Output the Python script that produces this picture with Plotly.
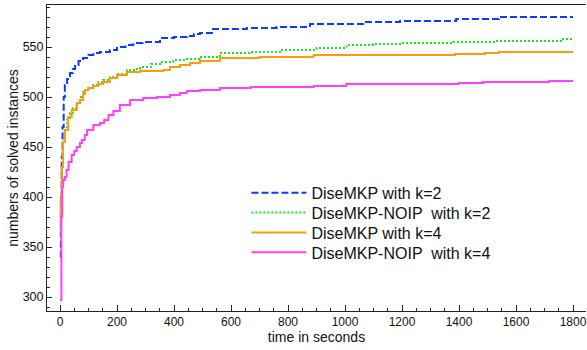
import plotly.graph_objects as go

# ---- data ----
blue_t = [0, 3, 6, 9, 13, 17, 25, 35, 45, 53, 65, 81, 100, 117, 140, 175, 200, 230, 257, 290, 351, 400, 445, 470, 491, 533, 655, 760, 877, 1064, 1193, 1390, 1540, 1800]
blue_v = [340, 400, 440, 470, 500, 512, 518, 524, 528, 532, 536, 539, 542, 544, 545, 547, 550, 552, 554, 555, 559, 560, 561, 563, 564, 568, 569, 570, 573, 575, 576, 578, 580, 580]

green_t = [0, 3, 6, 10, 17, 25, 35, 45, 59, 70, 81, 88, 100, 117, 135, 151, 175, 200, 235, 260, 281, 320, 351, 397, 440, 491, 561, 665, 772, 900, 1005, 1098, 1193, 1380, 1533, 1765, 1800]
green_v = [360, 400, 430, 455, 467, 477, 484, 489, 494, 500, 505, 507, 509, 512, 515, 517, 520, 523, 527, 528, 530, 533, 535, 537, 538, 540, 544, 545, 547, 549, 552, 553, 554, 555, 556, 558, 558]

orange_t = [0, 3, 6, 10, 17, 29, 41, 59, 70, 81, 88, 100, 117, 135, 151, 175, 200, 235, 281, 363, 386, 421, 456, 491, 561, 700, 890, 1386, 1491, 1540, 1800]
orange_v = [365, 400, 430, 455, 467, 480, 487, 494, 497, 503, 507, 509, 511, 513, 515, 519, 522, 525, 526, 527, 530, 532, 534, 536, 539, 540, 542, 543, 544, 545, 545]

magenta_t = [0, 5, 8, 11, 17, 23, 30, 41, 50, 59, 70, 77, 87, 95, 117, 140, 155, 170, 187, 210, 246, 292, 340, 386, 421, 445, 491, 561, 670, 890, 1005, 1398, 1485, 1715, 1800]
magenta_v = [297, 380, 410, 417, 420, 427, 435, 442, 446, 450, 454, 457, 462, 467, 472, 474, 477, 482, 486, 492, 497, 499, 500, 502, 504, 506, 507, 509, 510, 511, 513, 514, 515, 516, 516]

names = ["DiseMKP with k=2", "DiseMKP-NOIP  with k=2", "DiseMKP with k=4", "DiseMKP-NOIP  with k=4"]
x_ticks = [0, 200, 400, 600, 800, 1000, 1200, 1400, 1600, 1800]
y_ticks = [300, 350, 400, 450, 500, 550]

FONT = "Liberation Sans, Arial, Helvetica, sans-serif"

fig = go.Figure()
series = [
    (blue_t, blue_v, names[0], "#0a3cff", "7px,3px"),
    (green_t, green_v, names[1], "#11ee11", "2px,2px"),
    (orange_t, orange_v, names[2], "#ff9a0e", "solid"),
    (magenta_t, magenta_v, names[3], "#ff40ff", "solid"),
]
legend_ids = ["legend", "legend2", "legend3", "legend4"]
legend_tops = [0.442, 0.377, 0.312, 0.247]
for (t, v, n, c, d), lid in zip(series, legend_ids):
    fig.add_trace(go.Scatter(x=t, y=v, name=n, mode="lines", line_shape="hv",
                             legend=lid, line=dict(color=c, width=2, dash=d)))

leg_common = dict(x=0.37, xanchor="left", yanchor="top",
                  bgcolor="rgba(0,0,0,0)", font=dict(size=16), itemwidth=55)
fig.update_layout(
    width=587, height=350,
    margin=dict(l=47, r=1, t=5, b=39),
    paper_bgcolor="white", plot_bgcolor="white",
    font=dict(family=FONT, size=12, color="#111"),
    showlegend=True,
    legend=dict(y=legend_tops[0], **leg_common),
    legend2=dict(y=legend_tops[1], **leg_common),
    legend3=dict(y=legend_tops[2], **leg_common),
    legend4=dict(y=legend_tops[3], **leg_common),
)
fig.update_xaxes(
    range=[-45.6, 1845.6], tickvals=x_ticks, ticktext=[str(v) for v in x_ticks],
    automargin=False,
    showgrid=False, zeroline=False, showline=True, linecolor="#222", linewidth=1,
    mirror=True, ticks="inside", ticklen=6, tickcolor="#222",
    minor=dict(dtick=50, tick0=0, ticks="inside", ticklen=3, tickcolor="#222"),
    tickfont=dict(size=12),
    title=dict(text="time in seconds", font=dict(size=14), standoff=0),
)
fig.update_yaxes(
    range=[286, 592], tickvals=y_ticks, ticktext=[str(v) for v in y_ticks],
    automargin=False,
    showgrid=False, zeroline=False, showline=True, linecolor="#222", linewidth=1,
    mirror=False, ticks="inside", ticklen=5, tickcolor="#222",
    minor=dict(dtick=10, tick0=300, ticks="inside", ticklen=3, tickcolor="#222"),
    tickfont=dict(size=12.5),
    title=dict(text="numbers of solved instances", font=dict(size=14), standoff=0),
)
fig.write_html("out.html", config={"displayModeBar": False},
               post_script="document.body.style.margin='0px';document.body.style.overflow='hidden';")
